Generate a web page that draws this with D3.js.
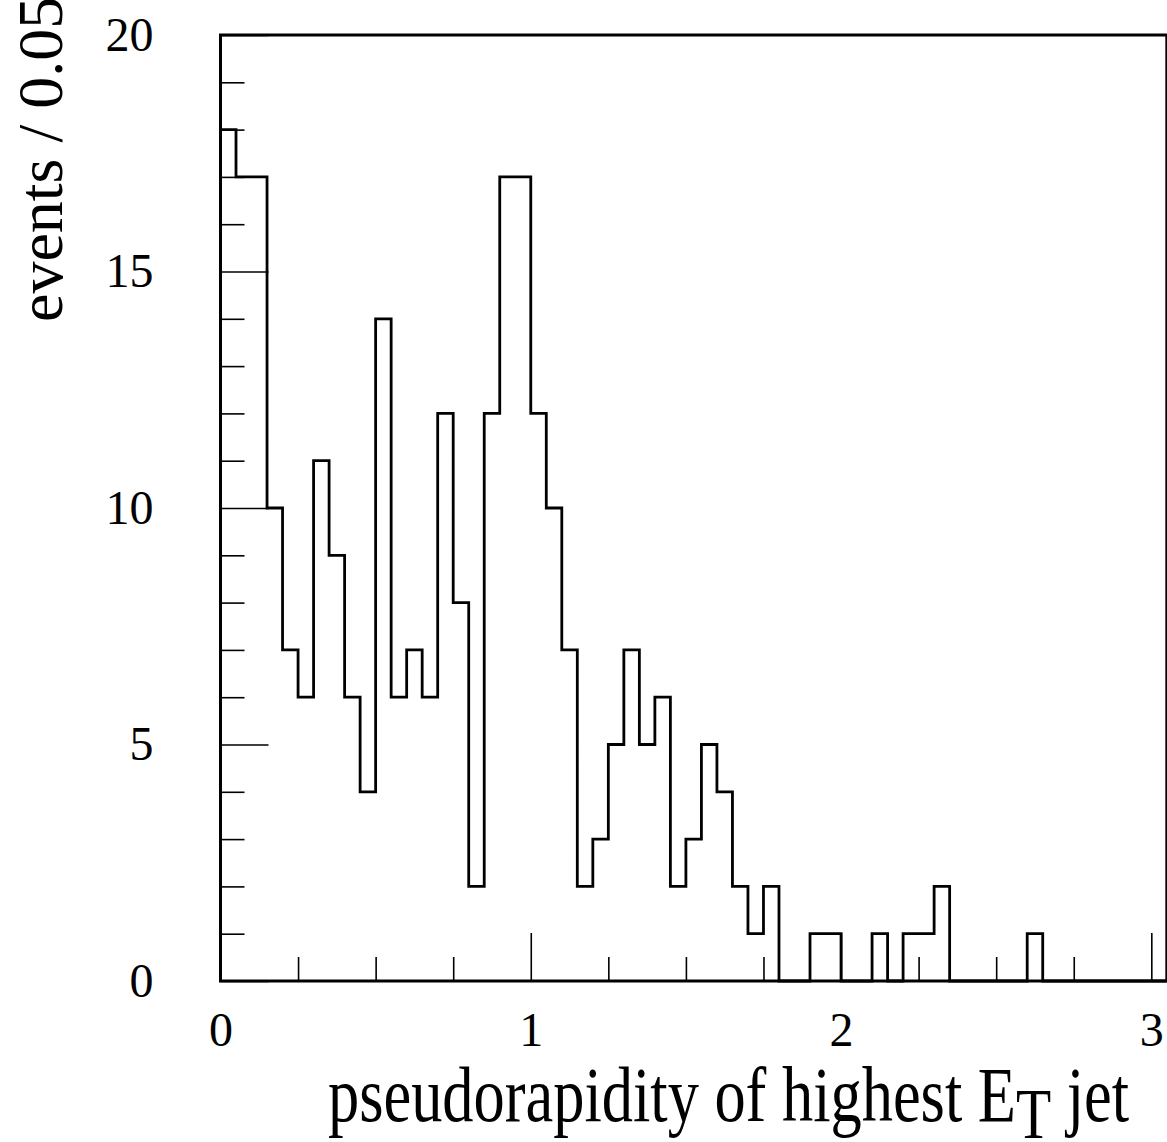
<!DOCTYPE html>
<html>
<head>
<meta charset="utf-8">
<script src="https://cdn.jsdelivr.net/npm/d3@7"></script>
<style>
  html, body { margin: 0; padding: 0; background: #fff; }
  svg { display: block; }
  text { font-family: "Liberation Serif", "DejaVu Serif", serif; fill: #000; }
</style>
</head>
<body>
<svg id="chart" width="1167" height="1142"></svg>
<script>
// ---- data ----
const binWidth = 0.05;
const binLow = [
  0.00, 0.05, 0.10, 0.15, 0.20, 0.25, 0.30, 0.35, 0.40, 0.45,
  0.50, 0.55, 0.60, 0.65, 0.70, 0.75, 0.80, 0.85, 0.90, 0.95,
  1.00, 1.05, 1.10, 1.15, 1.20, 1.25, 1.30, 1.35, 1.40, 1.45,
  1.50, 1.55, 1.60, 1.65, 1.70, 1.75, 1.80, 1.85, 1.90, 1.95,
  2.00, 2.05, 2.10, 2.15, 2.20, 2.25, 2.30, 2.35, 2.40, 2.45,
  2.50, 2.55, 2.60, 2.65, 2.70, 2.75, 2.80, 2.85, 2.90, 2.95,
  3.00
];
const counts = [
  18, 17, 17, 10, 7, 6, 11, 9, 6, 4,
  14, 6, 7, 6, 12, 8, 2, 12, 17, 17,
  12, 10, 7, 2, 3, 5, 7, 5, 6, 2,
  3, 5, 4, 2, 1, 2, 0, 0, 1, 1,
  0, 0, 1, 0, 1, 1, 2, 0, 0, 0,
  0, 0, 1, 0, 0, 0, 0, 0, 0, 0,
  0
];
const xMajorTicks = [0, 1, 2, 3];
const xTickLabels = ["0", "1", "2", "3"];
const xMinorTicks = [0.25, 0.5, 0.75, 1.25, 1.5, 1.75, 2.25, 2.5, 2.75];
const yMajorTicks = [0, 5, 10, 15, 20];
const yTickLabels = ["0", "5", "10", "15", "20"];
const yMinorTicks = [1,2,3,4,6,7,8,9,11,12,13,14,16,17,18,19];
const xTitle = "pseudorapidity of highest E";
const xTitleSub = "T";
const xTitleEnd = " jet";
const yTitle = "events / 0.05";

// ---- layout ----
const svg = d3.select("#chart");
const plotLeft = 220.5, plotBottom = 981, plotTop = 35;
const pxPerUnit = 310.27;
const x = d3.scaleLinear().domain([0, 3.05]).range([plotLeft, plotLeft + 3.05 * pxPerUnit]);
const y = d3.scaleLinear().domain([0, 20]).range([plotBottom, plotTop]);

// histogram outline
const pts = [[x(binLow[0]), y(0)]];
binLow.forEach((lo, i) => {
  pts.push([x(lo), y(counts[i])]);
  pts.push([x(lo + binWidth), y(counts[i])]);
});
pts.push([x(binLow[binLow.length - 1] + binWidth), y(0)]);
svg.append("path")
  .attr("d", d3.line()(pts))
  .attr("fill", "none")
  .attr("stroke", "#000")
  .attr("stroke-width", 2.8)
  .attr("stroke-linejoin", "miter");

// axes
function styleAxis(g) {
  g.select(".domain").remove();
  g.selectAll(".tick line").attr("stroke", "#000").attr("stroke-width", 1.6);
  g.selectAll(".tick text").attr("font-size", 48).attr("font-family", "Liberation Serif").attr("fill", "#000");
}
svg.append("g").attr("transform", `translate(0,${plotBottom})`)
  .call(d3.axisBottom(x).tickValues(xMinorTicks).tickSizeInner(-24).tickSizeOuter(0).tickFormat(""))
  .call(styleAxis);
svg.append("g").attr("transform", `translate(0,${plotBottom})`)
  .call(d3.axisBottom(x).tickValues(xMajorTicks).tickSizeInner(-48).tickSizeOuter(0)
    .tickPadding(31).tickFormat((d, i) => xTickLabels[i]))
  .call(styleAxis);
svg.append("g").attr("transform", `translate(${plotLeft},0)`)
  .call(d3.axisLeft(y).tickValues(yMinorTicks).tickSizeInner(-24).tickSizeOuter(0).tickFormat(""))
  .call(styleAxis);
svg.append("g").attr("transform", `translate(${plotLeft},0)`)
  .call(d3.axisLeft(y).tickValues(yMajorTicks).tickSizeInner(-48).tickSizeOuter(0)
    .tickPadding(67).tickFormat((d, i) => yTickLabels[i]))
  .call(styleAxis);

// frame
svg.append("rect")
  .attr("x", plotLeft).attr("y", plotTop)
  .attr("width", x(3.05) - plotLeft).attr("height", plotBottom - plotTop)
  .attr("fill", "none").attr("stroke", "#000").attr("stroke-width", 3);

// titles (reference glyphs are tall and narrow: larger size, horizontally condensed)
const xt = svg.append("text")
  .attr("transform", "translate(328,1121) scale(0.8,1)")
  .attr("font-size", 78);
xt.append("tspan").text(xTitle);
xt.append("tspan").attr("dy", 17).attr("font-size", 72).text(xTitleSub);
xt.append("tspan").attr("dy", -17).text(xTitleEnd);

svg.append("text")
  .attr("transform", "translate(62,322) rotate(-90)")
  .attr("text-anchor", "start")
  .attr("font-size", 64)
  .text(yTitle);
</script>
</body>
</html>
